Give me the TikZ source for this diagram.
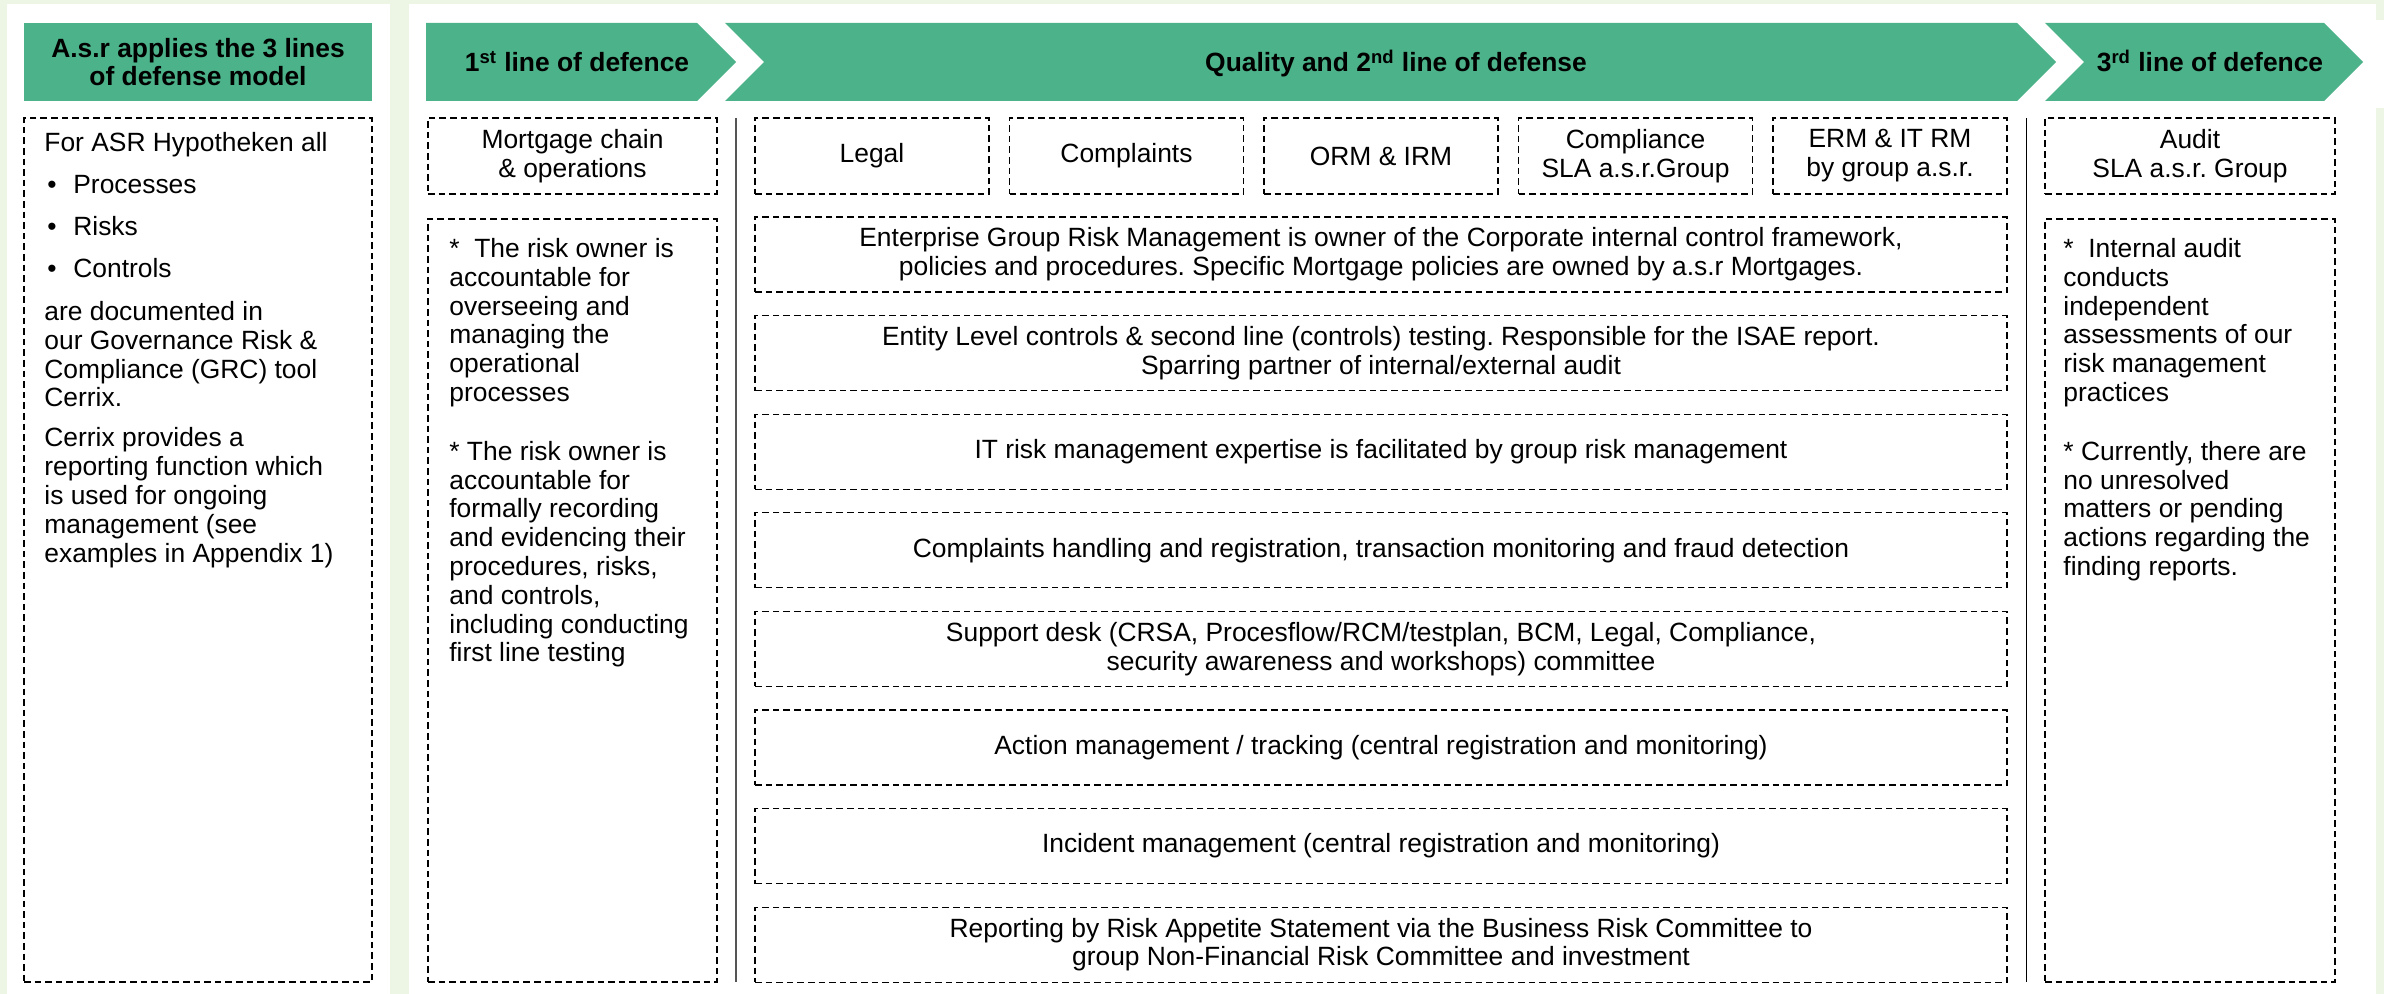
\documentclass[tikz,border=0pt]{standalone}
\usepackage{fontspec}
\setmainfont{Liberation Sans}
\usetikzlibrary{positioning}
\definecolor{hdrgreen}{RGB}{75,178,137}
\definecolor{pagegreen}{RGB}{237,245,228}
\definecolor{divgray}{RGB}{85,85,85}
\newcommand{\listdot}{\hspace*{1.5pt}\makebox[13pt][l]{•}}
\frenchspacing

\begin{document}
\begin{tikzpicture}[x=0.5pt,y=-0.5pt,node distance=9.65pt,
	every node/.style={font=\fontsize{13.2pt}{14.4pt}\selectfont,inner sep=0pt},
	hdr/.style={fill=hdrgreen},
	hdrtext/.style={font=\fontsize{13.2pt}{14.4pt}\selectfont\bfseries,align=center},
	dbox/.style={rectangle,draw,line width=0.6pt,dash pattern=on 3.3pt off 2pt,align=center},
	unit/.style={dbox,minimum width=117pt,minimum height=38pt},
	task/.style={dbox,minimum width=626pt,minimum height=37.5pt},
	note/.style={anchor=north west,align=left}]
	\useasboundingbox (0,0) rectangle (2384,994);
	\fill [pagegreen] (0,0) rectangle (2384,994);
	\fill [white] (7,4) rectangle (390,994);
	\fill [white] (409,4) rectangle (2376,994);
	\fill [white] (409,20) rectangle (2384,108);
%	left panel
	\node [rectangle,hdr,hdrtext,minimum width=174pt,minimum height=39pt] (asrhead) at (198,62) {A.s.r applies the 3 lines\\of defense model};
	\node [dbox,minimum width=174pt,minimum height=432pt] (asrbox) at (198,550) {};
	\node [note] (asrtext) at (44,132) {For ASR Hypotheken all\\[6.6pt]
		\listdot Processes\\[6.6pt]
		\listdot Risks\\[6.6pt]
		\listdot Controls\\[7.1pt]
		are documented in\\
		our Governance Risk \&\\
		Compliance (GRC) tool\\
		Cerrix.\\[5.6pt]
		Cerrix provides a\\
		reporting function which\\
		is used for ongoing\\
		management (see\\
		examples in Appendix 1)};
%	the three lines
	\fill [hdr] (426,23) -- (697,23) -- (736,62) -- (697,101) -- (426,101) -- cycle;
	\fill [hdr] (725,23) -- (2017,23) -- (2056,62) -- (2017,101) -- (725,101) -- (764,62) -- cycle;
	\fill [hdr] (2045,23) -- (2324,23) -- (2363,62) -- (2324,101) -- (2045,101) -- (2084,62) -- cycle;
	\node [hdrtext,anchor=base] (first) at (577,72) {1\textsuperscript{st} line of defence};
	\node [hdrtext,anchor=base] (second) at (1396,72) {Quality and 2\textsuperscript{nd} line of defense};
	\node [hdrtext,anchor=base] (third) at (2210,72) {3\textsuperscript{rd} line of defence};
%	owners
	\node [dbox,minimum width=144.5pt,minimum height=38pt] (mortgage) at (572.5,156) {Mortgage chain\\\& operations};
	\node [unit] (legal) at (872,156) {Legal};
	\node [unit,right=of legal] (complaints) {Complaints};
	\node [unit,right=of complaints] (orm) {ORM \& IRM};
	\node [unit,right=of orm] (compliance) {Compliance\\SLA a.s.r.Group};
	\node [unit,right=of compliance] (erm) {ERM \& IT RM\\by group a.s.r.};
	\node [dbox,minimum width=145pt,minimum height=38pt] (audit) at (2190,156) {Audit\\SLA a.s.r. Group};
	\draw [divgray,line width=1pt] (736,118) -- (736,982);
	\draw [line width=0.5pt] (2026,118) -- (2026,982);
%	first line
	\node [dbox,minimum width=144.5pt,minimum height=381.5pt] (owner) at (572.5,600.5) {};
	\node [note] (ownertext) at (449,238) {*\ \ The risk owner is\\
		accountable for\\
		overseeing and\\
		managing the\\
		operational\\
		processes\\[15pt]
		* The risk owner is\\
		accountable for\\
		formally recording\\
		and evidencing their\\
		procedures, risks,\\
		and controls,\\
		including conducting\\
		first line testing};
%	second line
	\node [task] (r1) at (1381,254.5) {Enterprise Group Risk Management is owner of the Corporate internal control framework,\\policies and procedures. Specific Mortgage policies are owned by a.s.r Mortgages.};
	\node [task,below=11.2pt of r1] (r2) {Entity Level controls \& second line (controls) testing. Responsible for the ISAE report.\\Sparring partner of internal/external audit};
	\node [task,below=11.2pt of r2] (r3) {IT risk management expertise is facilitated by group risk management};
	\node [task,below=11.2pt of r3] (r4) {Complaints handling and registration, transaction monitoring and fraud detection};
	\node [task,below=11.2pt of r4] (r5) {Support desk (CRSA, Procesflow/RCM/testplan, BCM, Legal, Compliance,\\security awareness and workshops) committee};
	\node [task,below=11.2pt of r5] (r6) {Action management / tracking (central registration and monitoring)};
	\node [task,below=11.2pt of r6] (r7) {Incident management (central registration and monitoring)};
	\node [task,below=11.2pt of r7] (r8) {Reporting by Risk Appetite Statement via the Business Risk Committee to\\group Non-Financial Risk Committee and investment};
%	third line
	\node [dbox,minimum width=145pt,minimum height=381.5pt] (auditbox) at (2190,600.5) {};
	\node [note] (audittext) at (2063,238) {*\ \ Internal audit\\
		conducts\\
		independent\\
		assessments of our\\
		risk management\\
		practices\\[15pt]
		* Currently, there are\\
		no unresolved\\
		matters or pending\\
		actions regarding the\\
		finding reports.};
\end{tikzpicture}
\end{document}
